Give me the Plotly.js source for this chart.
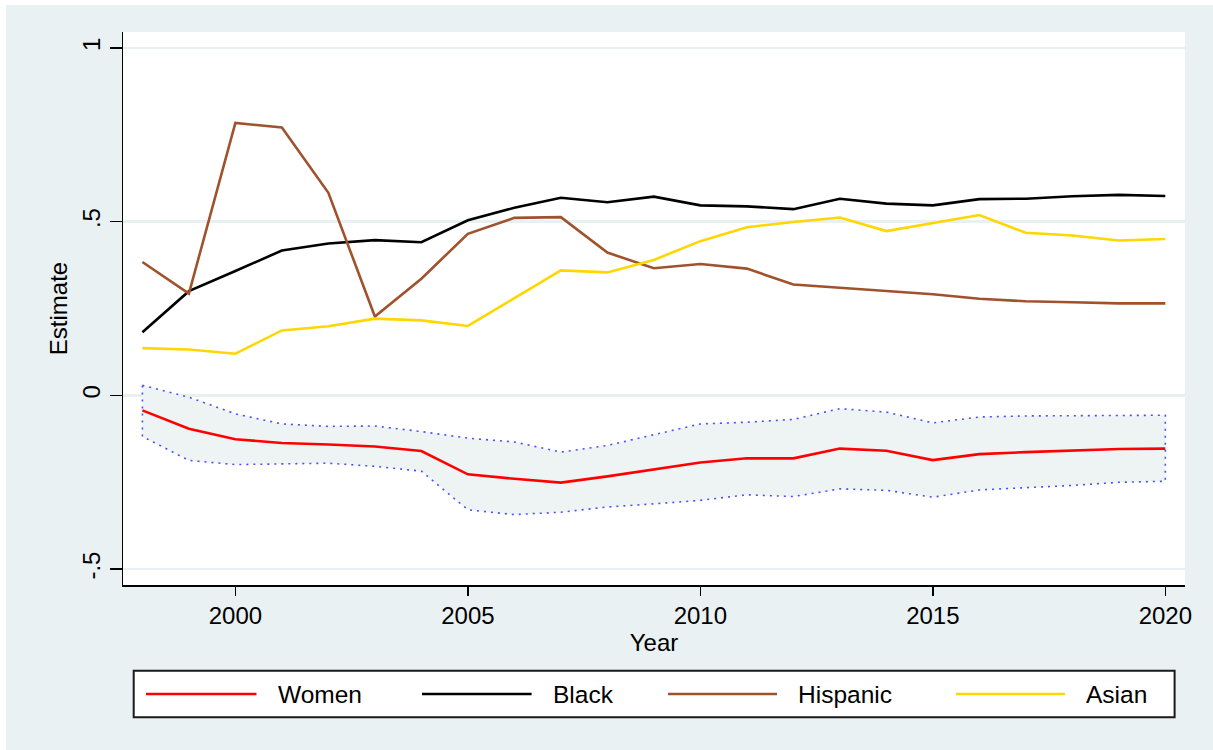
<!DOCTYPE html>
<html>
<head>
<meta charset="utf-8">
<script src="https://cdn.plot.ly/plotly-3.0.1.min.js"></script>
<style>
  html, body { margin: 0; padding: 0; background: #ffffff; }
  #chart { position: absolute; left: 6px; top: 5px; width: 1207px; height: 745px; }
</style>
</head>
<body>
<div id="chart"></div>
<script>
// Yearly estimates by group, 1998-2020
const years = [1998, 1999, 2000, 2001, 2002, 2003, 2004, 2005, 2006, 2007, 2008, 2009,
               2010, 2011, 2012, 2013, 2014, 2015, 2016, 2017, 2018, 2019, 2020];

const women = [-0.043, -0.096, -0.126, -0.137, -0.141, -0.147, -0.160, -0.227, -0.240, -0.251, -0.233, -0.212,
               -0.193, -0.181, -0.181, -0.153, -0.159, -0.186, -0.169, -0.163, -0.159, -0.154, -0.153];
const womenUpper = [0.029, -0.005, -0.053, -0.082, -0.089, -0.088, -0.104, -0.123, -0.134, -0.163, -0.144, -0.112,
                    -0.082, -0.077, -0.069, -0.038, -0.048, -0.079, -0.062, -0.059, -0.059, -0.059, -0.057];
const womenLower = [-0.118, -0.187, -0.199, -0.197, -0.195, -0.204, -0.218, -0.329, -0.343, -0.336, -0.321, -0.312,
                    -0.302, -0.286, -0.291, -0.269, -0.273, -0.293, -0.272, -0.266, -0.259, -0.250, -0.247];
const black = [0.182, 0.300, 0.358, 0.417, 0.437, 0.447, 0.441, 0.504, 0.540, 0.569, 0.556, 0.572,
               0.547, 0.544, 0.536, 0.566, 0.552, 0.547, 0.565, 0.566, 0.573, 0.577, 0.574];
const hispanic = [0.384, 0.293, 0.784, 0.771, 0.583, 0.227, 0.336, 0.465, 0.511, 0.513, 0.411, 0.366,
                  0.378, 0.365, 0.319, 0.310, 0.302, 0.291, 0.278, 0.271, 0.268, 0.265, 0.265];
const asian = [0.136, 0.132, 0.120, 0.187, 0.199, 0.221, 0.216, 0.200, 0.280, 0.360, 0.354, 0.390,
               0.444, 0.484, 0.499, 0.512, 0.473, 0.496, 0.519, 0.468, 0.460, 0.446, 0.450];

const yTickVals = [-0.5, 0, 0.5, 1];
const yTickText = ['-.5', '0', '.5', '1'];
const xTickVals = [2000, 2005, 2010, 2015, 2020];

const seriesNames = ['Women', 'Black', 'Hispanic', 'Asian'];
const seriesColors = ['#ff0000', '#000000', '#a0522d', '#ffd700'];

const FONT = 'Liberation Sans, Arial, Helvetica, sans-serif';
const W = 1207, H = 745;
const M = { l: 117, r: 28, t: 27, b: 165 };
const plotW = W - M.l - M.r, plotH = H - M.t - M.b;
// pixel -> paper helpers for the legend panel below the axes
const px = x => (x - M.l) / plotW;
const py = y => (H - M.b - y) / plotH;

// Confidence band for Women: closed polygon (upper forward, lower back)
const band = {
  x: years.concat(years.slice().reverse(), [years[0]]),
  y: womenUpper.concat(womenLower.slice().reverse(), [womenUpper[0]]),
  type: 'scatter', mode: 'lines', fill: 'toself',
  fillcolor: '#edf4f3',
  line: { color: '#4d4dff', width: 1.6, dash: '2px,5px' },
  hoverinfo: 'skip', showlegend: false
};

const series = [women, black, hispanic, asian].map((vals, i) => ({
  x: years, y: vals, type: 'scatter', mode: 'lines', name: seriesNames[i],
  line: { color: seriesColors[i], width: 2.6 }, showlegend: false
}));

// Legend panel
const legendBox = { x0: 127.7, x1: 1168.6, y0: 665.7, y1: 712.3 };
const legendRowY = 689;
const legendLines = [[140, 250.5], [416, 525.6], [662, 771], [950, 1059]];
const legendLabelX = [269.6, 545.4, 789.8, 1077.8];

const shapes = [{
  type: 'rect', xref: 'paper', yref: 'paper',
  x0: px(legendBox.x0), x1: px(legendBox.x1), y0: py(legendBox.y1), y1: py(legendBox.y0),
  fillcolor: '#ffffff', line: { color: '#1a1a1a', width: 2 }
}];
legendLines.forEach((seg, i) => shapes.push({
  type: 'line', xref: 'paper', yref: 'paper',
  x0: px(seg[0]), x1: px(seg[1]), y0: py(legendRowY), y1: py(legendRowY),
  line: { color: seriesColors[i], width: 2.6 }
}));

const annotations = seriesNames.map((name, i) => ({
  xref: 'paper', yref: 'paper', x: px(legendLabelX[i]), y: py(legendRowY),
  xanchor: 'left', yanchor: 'middle', text: name, showarrow: false,
  font: { family: FONT, size: 24.5, color: '#000000' }
}));

const layout = {
  width: W, height: H,
  margin: M,
  paper_bgcolor: '#eaf1f3',
  plot_bgcolor: '#ffffff',
  font: { family: FONT, size: 24, color: '#000000' },
  showlegend: false,
  xaxis: {
    range: [1997.583, 2020.423],
    tickvals: xTickVals, ticktext: xTickVals.map(String),
    ticks: 'outside', ticklen: 9, tickwidth: 1.5, tickcolor: '#000000',
    showline: true, linecolor: '#000000', linewidth: 1.5,
    showgrid: false, zeroline: false,
    tickfont: { family: FONT, size: 24 },
    title: { text: 'Year', font: { family: FONT, size: 24 }, standoff: 3 }
  },
  yaxis: {
    range: [-0.5455, 1.0458],
    tickvals: yTickVals, ticktext: yTickText,
    tickangle: -90,
    ticks: 'outside', ticklen: 12, tickwidth: 1.5, tickcolor: '#000000',
    showline: true, linecolor: '#000000', linewidth: 1.5,
    showgrid: true, gridcolor: '#e8f0f2', gridwidth: 2.5,
    zeroline: false,
    tickfont: { family: FONT, size: 24 },
    title: { text: 'Estimate', font: { family: FONT, size: 24 }, standoff: 3 }
  },
  shapes: shapes,
  annotations: annotations
};

Plotly.newPlot('chart', [band].concat(series), layout, { displayModeBar: false, staticPlot: true });
</script>
</body>
</html>
